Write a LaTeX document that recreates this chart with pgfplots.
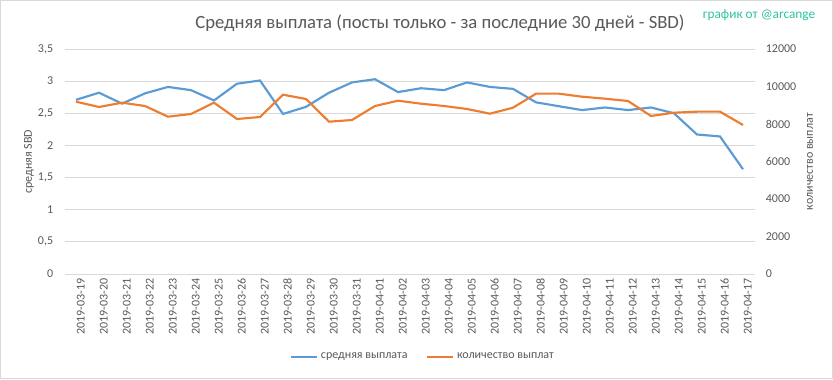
\documentclass[border=0pt]{standalone}
\usepackage{pgfplots}
\pgfplotsset{compat=1.18}
\usepackage{pgfplotstable}
\usepackage{fontspec}
\setmainfont{Carlito}
\definecolor{exblue}{HTML}{5B9BD5}
\definecolor{exorange}{HTML}{ED7D31}
\definecolor{exgrid}{HTML}{D9D9D9}
\definecolor{extext}{HTML}{595959}
\definecolor{wmark}{RGB}{46,196,160}
\pgfplotstableread{
idx avg cnt
0 2.71 9190
1 2.82 8907
2 2.65 9137
3 2.81 8960
4 2.91 8390
5 2.86 8533
6 2.70 9137
7 2.96 8267
8 3.01 8373
9 2.49 9563
10 2.60 9333
11 2.82 8123
12 2.98 8213
13 3.03 8960
14 2.83 9243
15 2.89 9083
16 2.86 8960
17 2.98 8800
18 2.91 8550
19 2.88 8870
20 2.67 9617
21 2.61 9617
22 2.55 9457
23 2.59 9350
24 2.55 9227
25 2.59 8427
26 2.50 8603
27 2.17 8657
28 2.14 8657
29 1.63 7947
}\datatable
\begin{document}
\begin{tikzpicture}
\useasboundingbox (0,0) rectangle (624.75pt,284.25pt);
\fill[white] (0,0) rectangle (624.75pt,284.25pt);
\draw[exgrid, line width=0.75pt] (0.375pt,0.375pt) rectangle (624.375pt,283.875pt);
\pgfplotsset{
  base/.style={
    scale only axis, width=517.5pt, height=168.75pt,
    at={(48.375pt,78.75pt)}, anchor=south west,
    xmin=-0.5, xmax=29.5,
    xtick={0,...,29},
    axis line style={draw=none},
    tick style={draw=none},
    ticklabel style={font=\fontsize{9}{11}\selectfont, text=extext},
    /pgf/number format/assume math mode=true,
    scaled y ticks=false,
  }
}
\begin{axis}[base,
  ymin=0, ymax=3.5, ytick={0,0.5,...,3.5},
  ymajorgrids, grid style={exgrid, line width=0.75pt},
  /pgf/number format/use comma,
  yticklabel style={xshift=-5pt},
  xticklabels={2019-03-19,2019-03-20,2019-03-21,2019-03-22,2019-03-23,2019-03-24,2019-03-25,2019-03-26,2019-03-27,2019-03-28,2019-03-29,2019-03-30,2019-03-31,2019-04-01,2019-04-02,2019-04-03,2019-04-04,2019-04-05,2019-04-06,2019-04-07,2019-04-08,2019-04-09,2019-04-10,2019-04-11,2019-04-12,2019-04-13,2019-04-14,2019-04-15,2019-04-16,2019-04-17},
  xticklabel style={rotate=90, anchor=east, yshift=-3.5pt},
]
\addplot[exblue, line width=1.6pt, no marks] table[x=idx, y=avg] {\datatable};
\end{axis}
\begin{axis}[base,
  axis y line*=right, axis x line=none,
  ymin=0, ymax=12000, ytick={0,2000,...,12000},
  /pgf/number format/1000 sep={},
  yticklabel style={xshift=5pt},
  xticklabels={},
  legend style={at={(0.52,-0.369)}, anchor=center, draw=none, fill=none,
    font=\fontsize{9}{11}\selectfont, text=extext, legend columns=2,
    /tikz/every even column/.append style={column sep=12pt}},
  legend cell align=left,
  legend image code/.code={\draw[#1] (0pt,0pt) -- (19.5pt,0pt);},
]
\addlegendimage{exblue, line width=1.6pt}
\addlegendentry{средняя выплата}
\addplot[exorange, line width=1.6pt, no marks] table[x=idx, y=cnt] {\datatable};
\addlegendentry{количество выплат}
\end{axis}
\node[rotate=90, font=\fontsize{9}{11}\selectfont, text=extext] at (21.75pt,163pt) {средняя SBD};
\node[rotate=90, font=\fontsize{9}{11}\selectfont, text=extext] at (607.5pt,163pt) {количество выплат};
\node[font=\fontsize{14}{17}\selectfont, text=extext] at (330pt,267pt) {Средняя выплата (посты только - за последние 30 дней - SBD)};
\node[anchor=east, font=\fontsize{10}{12}\selectfont, text=wmark] at (615pt,273pt) {график от @arcange};
\end{tikzpicture}
\end{document}
